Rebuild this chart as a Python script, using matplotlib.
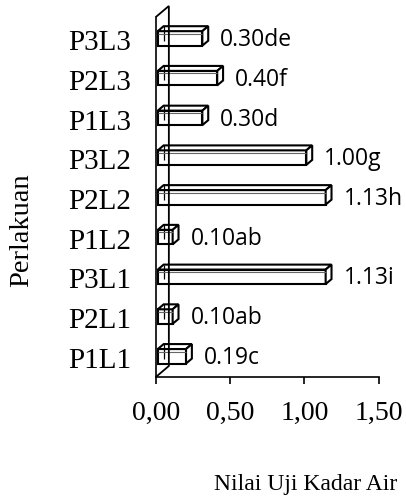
import numpy as np
import matplotlib
matplotlib.use('Agg')
import matplotlib.pyplot as plt
from matplotlib.patches import Polygon

# data, bottom to top as in the chart
perlakuan = ['P1L1', 'P2L1', 'P3L1', 'P1L2', 'P2L2', 'P3L2', 'P1L3', 'P2L3', 'P3L3']
kadar_air = [0.19, 0.10, 1.13, 0.10, 1.13, 1.00, 0.30, 0.40, 0.30]
notasi = ['c', 'ab', 'i', 'ab', 'h', 'g', 'd', 'f', 'de']
xticks = [0.0, 0.5, 1.0, 1.5]
xtick_labels = ['0,00', '0,50', '1,00', '1,50']

serif = 'Liberation Serif'
sans = 'Open Sans'

W, H = 406, 498
fig = plt.figure(figsize=(W / 100 + 0.004, H / 100), dpi=100)
ax = fig.add_axes([155.7 / W, (H - 377) / H, 222.6 / W, 360 / H])
ax.set_xlim(0, 1.5)
ax.set_ylim(-0.48, 8.58)

for s in ['top', 'right']:
    ax.spines[s].set_visible(False)
ax.spines['left'].set_linewidth(1.2)
ax.spines['bottom'].set_linewidth(1.2)

ax.set_xticks(xticks)
ax.set_xticklabels(xtick_labels, fontfamily=serif, fontsize=20)
ax.tick_params(axis='x', direction='out', length=5, width=1.2, pad=12)
ax.set_yticks(range(len(perlakuan)))
ax.set_yticklabels(perlakuan, fontfamily=serif, fontsize=21)
ax.tick_params(axis='y', length=0, pad=18)

# 3d depth of the side wall in pixels
wall_dx, wall_dy = 13, 11


def shift(x, y, dx, dy):
    p = ax.transData.transform((x, y)) + np.array([dx, dy])
    return ax.transData.inverted().transform(p)


# side wall outline: front bottom -> back bottom -> back top -> front top
ylo, yhi = ax.get_ylim()
wall = [(0, ylo), shift(0, ylo, wall_dx, wall_dy), shift(0, yhi, wall_dx, wall_dy), (0, yhi)]
ax.add_patch(Polygon(wall, closed=False, fill=False, edgecolor='black', lw=1.3,
                     zorder=5, clip_on=False))

# boxes
bar_h = 0.365
f_dx, f_dy = 0.15 * wall_dx, 0.15 * wall_dy
k_dx, k_dy = 0.6 * wall_dx, 0.6 * wall_dy
for i, v in enumerate(kadar_air):
    lo, hi = i - bar_h / 2, i + bar_h / 2
    fl = shift(0, lo, f_dx, f_dy)
    fr = shift(v, lo, f_dx, f_dy)
    fr2 = shift(v, hi, f_dx, f_dy)
    fl2 = shift(0, hi, f_dx, f_dy)
    br = shift(v, lo, k_dx, k_dy)
    br2 = shift(v, hi, k_dx, k_dy)
    bl2 = shift(0, hi, k_dx, k_dy)
    bl = shift(0, lo, k_dx, k_dy)
    faces = [[fl, fr, fr2, fl2], [fl2, fr2, br2, bl2], [fr, br, br2, fr2]]
    for f in faces:
        ax.add_patch(Polygon(f, closed=True, facecolor='white', edgecolor='black',
                             lw=1.5, zorder=3, clip_on=False))
    # inner lines for the double edged look
    ax.add_patch(Polygon([bl, bl2], closed=False, fill=False, edgecolor='black', lw=0.9,
                         zorder=4, clip_on=False))
    in1 = shift(0, hi, f_dx, f_dy - 2.5)
    in2 = shift(v, hi, f_dx, f_dy - 2.5)
    ax.add_patch(Polygon([in1, in2], closed=False, fill=False, edgecolor='#666666', lw=0.8,
                         zorder=4, clip_on=False))
    lab = shift(v, i, k_dx + 12, 0)
    ax.text(lab[0], lab[1], f'{v:.2f}{notasi[i]}', fontfamily=sans, fontsize=16.5,
            va='center', ha='left', zorder=6, clip_on=False)

fig.text(22 / W, 1 - 230 / H, 'Perlakuan', rotation=90, ha='center', va='center',
         fontfamily=serif, fontsize=20.5)
fig.text(305 / W, 1 - 484 / H, 'Nilai Uji Kadar Air', ha='center', va='center',
         fontfamily=serif, fontsize=17)

fig.savefig('out.png', dpi=100)
